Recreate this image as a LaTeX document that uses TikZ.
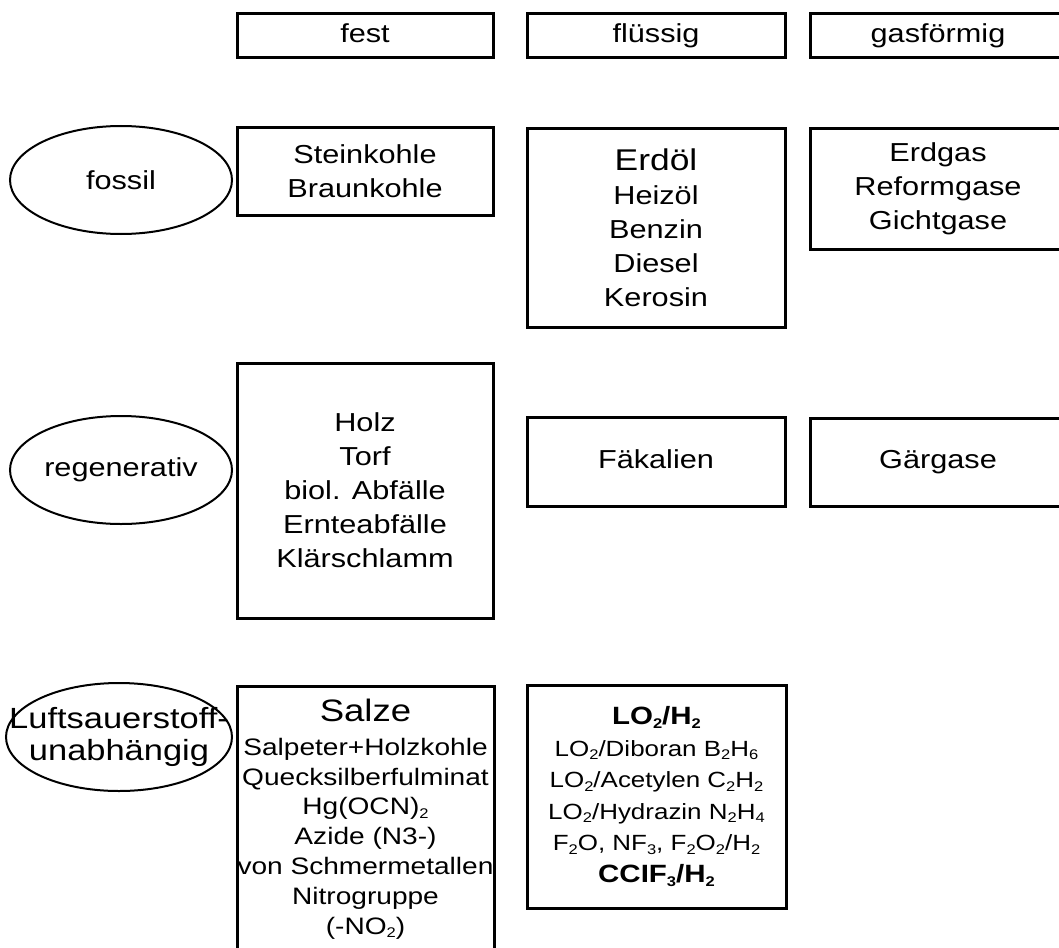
\documentclass[tikz,border=0pt]{standalone}
\usepackage{fontspec}
\setmainfont{Liberation Sans}[FakeStretch=1.18]
\usetikzlibrary{shapes.geometric}
\newcommand{\ix}[1]{\raisebox{-0.3ex}{\fontsize{7pt}{7pt}\selectfont #1}}

\begin{document}
\begin{tikzpicture}[x=0.5pt, y=-0.5pt,
  box/.style={draw, line width=1.5pt, rectangle, inner sep=0pt, align=center,
    minimum width=128pt, font={\fontsize{13pt}{17pt}\selectfont}},
  oneline/.style={box, text height=9.5pt, text depth=3pt},
  group/.style={draw, line width=1pt, ellipse, inner sep=0pt, minimum width=111pt,
    minimum height=54pt, font={\fontsize{13pt}{17pt}\selectfont}}]
  \clip (0,0) rectangle (1059,947);

  % kopfzeile
  \node[oneline, minimum height=22pt] (fest) at (365,36) {fest};
  \node[oneline, minimum height=22pt, minimum width=129pt] (fluessig) at (656,36) {flüssig};
  \node[oneline, minimum height=22pt] (gas) at (938,36) {gasförmig};

  % fossil
  \node[group] (fossil) at (121,180) {fossil};
  \node[box, minimum height=44pt] (kohle) at (365,171) {Steinkohle\\Braunkohle};
  \node[box, minimum height=99.5pt, minimum width=129pt] (oel) at (656,227.5)
    {{\fontsize{15pt}{17pt}\selectfont Erdöl}\\Heizöl\\Benzin\\Diesel\\Kerosin};
  \node[box, minimum height=60.5pt] (erdgas) at (938,188.5) {Erdgas\\Reformgase\\Gichtgase};

  % regenerativ
  \node[group] (regen) at (121,470) {regenerativ};
  \node[box, minimum height=127.5pt] (holz) at (365,490.5)
    {Holz\\Torf\\biol. Abfälle\\Ernteabfälle\\Klärschlamm};
  \node[oneline, minimum height=44.5pt, minimum width=129pt] (faekal) at (656,461.5) {Fäkalien};
  \node[oneline, minimum height=44pt] (gaer) at (938,462) {Gärgase};

  % luftsauerstoffunabhaengig
  \node[group, minimum width=113pt] (luft) at (119,737) {};
  \node[align=center, inner sep=0pt, font={\fontsize{14.6pt}{16pt}\selectfont}] (lufttext) at (119,737)
    {Luftsauerstoff-\\unabhängig};
  \node[box, minimum height=133pt, minimum width=128.5pt,
    font={\fontsize{11.9pt}{14.9pt}\selectfont}] (salze) at (365.5,819)
    {{\fontsize{15.5pt}{17pt}\selectfont Salze}\\[2pt]
     Salpeter+Holzkohle\\Quecksilberfulminat\\Hg(OCN)\ix{2}\\
     Azide (N3-)\\von Schmermetallen\\Nitrogruppe\\(-NO\ix{2})};
  \node[box, minimum height=111.5pt, minimum width=129.5pt,
    font={\fontsize{11pt}{15.8pt}\selectfont}] (treib) at (656.5,796.5)
    {{\fontsize{12.5pt}{15.8pt}\selectfont\bfseries LO\ix{2}/H\ix{2}}\\
     LO\ix{2}/Diboran B\ix{2}H\ix{6}\\
     LO\ix{2}/Acetylen C\ix{2}H\ix{2}\\
     LO\ix{2}/Hydrazin N\ix{2}H\ix{4}\\
     F\ix{2}O, NF\ix{3}, F\ix{2}O\ix{2}/H\ix{2}\\
     {\fontsize{12.5pt}{15.8pt}\selectfont\bfseries CCIF\ix{3}/H\ix{2}}};
\end{tikzpicture}
\end{document}
